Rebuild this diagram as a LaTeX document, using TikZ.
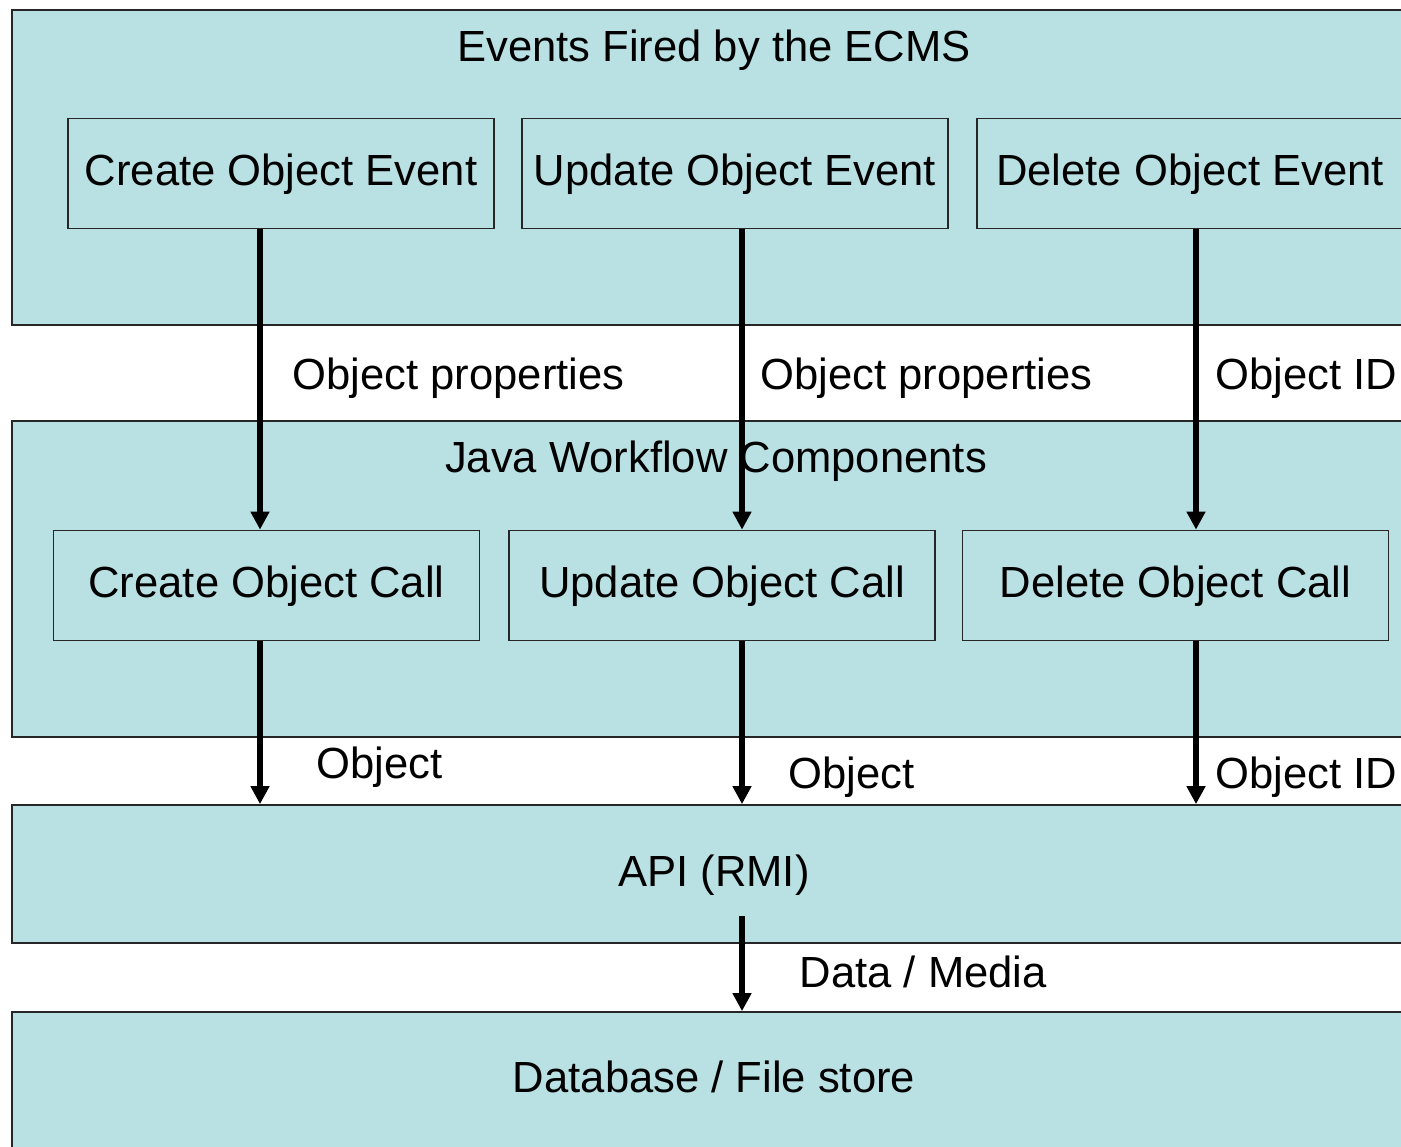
\documentclass[tikz,border=0pt]{standalone}
\usepackage{fontspec}
\setmainfont{Liberation Sans}
\usetikzlibrary{arrows.meta}
\definecolor{bandfill}{RGB}{185,224,227}
\begin{document}
\begin{tikzpicture}[
   font=\fontsize{12.4}{15}\selectfont,
   band/.style={draw=black!85,line width=0.5pt,fill=bandfill,minimum width=14.04cm,inner sep=0pt,
      text height=0.8em,text depth=0.1em},
   stepbox/.style={draw=black!85,line width=0.5pt,fill=bandfill,minimum width=4.26cm,minimum height=1.1cm,
      inner sep=0pt,text height=0.8em,text depth=0.1em},
   flow/.style={line width=1.5pt,-{Triangle[width=0.18cm,length=0.18cm]}},
   lbl/.style={anchor=west,inner sep=0pt}]
   \useasboundingbox (0,0) rectangle (14.01,11.46);
   \clip (0,0) rectangle (14.01,11.46);
   % layers
   \node [band,minimum height=3.15cm] (ecms) at (7.14,9.785) {};
   \node [band,minimum height=3.16cm] (jwc) at (7.14,5.67) {};
   \node [band,minimum height=1.38cm] (api) at (7.14,2.72) {API (RMI)};
   \node [band,minimum height=1.36cm] (store) at (7.14,0.66) {Database / File store};
   \node (ecmstitle) at (7.14,10.96) {Events Fired by the ECMS};
   \node (jwctitle) at (7.16,6.85) {Java Workflow Components};
   % events
   \node [stepbox] (cev) at (2.81,9.725) {Create Object Event};
   \node [stepbox] (uev) at (7.35,9.725) {Update Object Event};
   \node [stepbox] (dev) at (11.90,9.725) {Delete Object Event};
   % calls
   \node [stepbox] (ccall) at (2.665,5.605) {Create Object Call};
   \node [stepbox] (ucall) at (7.22,5.605) {Update Object Call};
   \node [stepbox] (dcall) at (11.755,5.605) {Delete Object Call};
   \coordinate (colA) at (2.60,0);
   \coordinate (colB) at (7.42,0);
   \coordinate (colC) at (11.96,0);
   \coordinate (dmfrom) at (7.42,2.30);
   \draw [flow] (cev.south -| colA) -- (ccall.north -| colA);
   \draw [flow] (uev.south -| colB) -- (ucall.north -| colB);
   \draw [flow] (dev.south -| colC) -- (dcall.north -| colC);
   \draw [flow] (ccall.south -| colA) -- (api.north -| colA);
   \draw [flow] (ucall.south -| colB) -- (api.north -| colB);
   \draw [flow] (dcall.south -| colC) -- (api.north -| colC);
   \draw [flow] (dmfrom) -- (store.north -| dmfrom);
   % labels
   \node [lbl] (cprops) at (2.92,7.68) {Object properties};
   \node [lbl] (uprops) at (7.60,7.68) {Object properties};
   \node [lbl] (did) at (12.15,7.68) {Object ID};
   \node [lbl] (cobj) at (3.16,3.79) {Object};
   \node [lbl] (uobj) at (7.88,3.69) {Object};
   \node [lbl] (dobjid) at (12.15,3.69) {Object ID};
   \node [lbl] (media) at (7.99,1.74) {Data / Media};
\end{tikzpicture}
\end{document}
